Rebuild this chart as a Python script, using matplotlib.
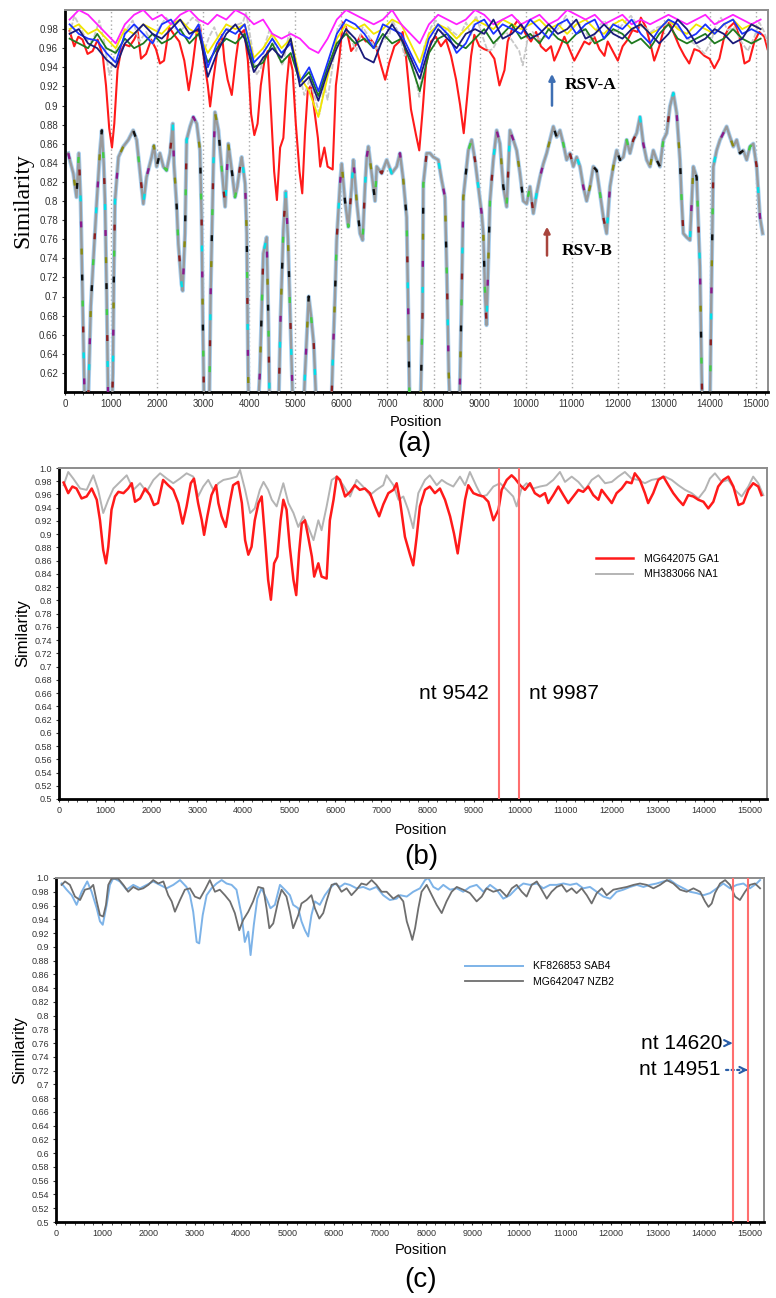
import matplotlib
matplotlib.use("Agg")
import matplotlib.pyplot as plt
from matplotlib.ticker import MultipleLocator, FixedLocator

# ---------------- data ----------------
# MG642075 GA1 (red, panels a and b)
red_pos = [100, 200, 290, 380, 490, 600, 710, 820, 890, 960, 1020, 1070, 1140, 1215, 1290, 1400, 1500, 1580,
           1650, 1760, 1870, 1975, 2060, 2150, 2260, 2370, 2480, 2590, 2685, 2770, 2860, 2930, 3020, 3100,
           3150, 3220, 3310, 3410, 3460, 3530, 3620, 3710, 3780, 3890, 3970, 4040, 4110, 4180, 4250, 4330,
           4400, 4470, 4540, 4600, 4670, 4740, 4810, 4870, 4940, 5010, 5090, 5150, 5210, 5270, 5340, 5410,
           5490, 5540, 5630, 5700, 5810, 5880, 5960, 6030, 6100, 6210, 6320, 6420, 6530, 6640, 6750, 6860,
           6950, 7040, 7150, 7260, 7330, 7400, 7510, 7620, 7690, 7765, 7835, 7945, 8050, 8160, 8270, 8380,
           8490, 8575, 8655, 8725, 8815, 8885, 8995, 9100, 9210, 9320, 9430, 9540, 9610, 9720, 9825, 9900,
           10010, 10115, 10225, 10330, 10440, 10550, 10620, 10730, 10840, 10950, 11055, 11165, 11275, 11380,
           11490, 11600, 11710, 11780, 11890, 12000, 12105, 12215, 12320, 12430, 12500, 12610, 12720, 12790,
           12900, 13010, 13120, 13230, 13335, 13445, 13550, 13660, 13770, 13880, 13990, 14095, 14205, 14310,
           14420, 14530, 14640, 14750, 14855, 14965, 15070, 15180, 15250]
red_val = [0.978, 0.962, 0.972, 0.969, 0.954, 0.957, 0.969, 0.952, 0.921, 0.876, 0.856, 0.881, 0.937, 0.957,
           0.964, 0.962, 0.969, 0.977, 0.949, 0.954, 0.969, 0.959, 0.944, 0.947, 0.982, 0.974, 0.967, 0.947,
           0.916, 0.942, 0.977, 0.984, 0.947, 0.921, 0.899, 0.927, 0.959, 0.974, 0.947, 0.927, 0.911, 0.949,
           0.974, 0.979, 0.947, 0.891, 0.869, 0.881, 0.921, 0.947, 0.957, 0.896, 0.831, 0.801, 0.856, 0.866,
           0.921, 0.952, 0.937, 0.881, 0.831, 0.808, 0.871, 0.916, 0.921, 0.896, 0.866, 0.836, 0.856, 0.836,
           0.833, 0.921, 0.952, 0.987, 0.982, 0.957, 0.964, 0.974, 0.967, 0.969, 0.962, 0.942, 0.927, 0.945,
           0.962, 0.967, 0.977, 0.952, 0.896, 0.869, 0.853, 0.896, 0.942, 0.967, 0.972, 0.962, 0.969, 0.952,
           0.927, 0.901, 0.871, 0.906, 0.952, 0.974, 0.962, 0.959, 0.957, 0.949, 0.921, 0.937, 0.967, 0.982,
           0.989, 0.984, 0.974, 0.967, 0.977, 0.962, 0.957, 0.962, 0.947, 0.959, 0.972, 0.959, 0.947, 0.957,
           0.967, 0.964, 0.972, 0.959, 0.952, 0.967, 0.957, 0.947, 0.962, 0.969, 0.979, 0.977, 0.992, 0.982,
           0.962, 0.947, 0.962, 0.982, 0.987, 0.974, 0.962, 0.952, 0.944, 0.959, 0.957, 0.952, 0.949, 0.939,
           0.949, 0.972, 0.982, 0.987, 0.972, 0.944, 0.947, 0.967, 0.977, 0.972, 0.959]

# MH383066 NA1 (gray, panels a and b)
na1_pos = [100, 200, 310, 460, 600, 745, 850, 960, 1070, 1180, 1325, 1470, 1615, 1760, 1900, 2050, 2195, 2340,
           2480, 2625, 2770, 2915, 3020, 3130, 3240, 3350, 3460, 3570, 3710, 3860, 3930, 4040, 4150, 4250,
           4360, 4440, 4540, 4620, 4725, 4870, 4980, 5090, 5195, 5305, 5410, 5525, 5630, 5700, 5810, 5920,
           6030, 6170, 6320, 6460, 6600, 6750, 6890, 7040, 7110, 7260, 7370, 7475, 7580, 7690, 7800, 7945,
           8050, 8200, 8310, 8415, 8560, 8705, 8815, 8920, 9065, 9175, 9285, 9430, 9575, 9720, 9860, 9935,
           10040, 10150, 10295, 10440, 10585, 10730, 10875, 10985, 11130, 11275, 11420, 11565, 11710, 11855,
           12000, 12140, 12285, 12430, 12575, 12720, 12865, 13010, 13155, 13300, 13445, 13590, 13735, 13880,
           14025, 14130, 14240, 14385, 14530, 14675, 14820, 14965, 15070, 15180, 15290]
na1_val = [0.974, 0.994, 0.984, 0.969, 0.967, 0.989, 0.967, 0.932, 0.952, 0.969, 0.979, 0.989, 0.967, 0.977,
           0.964, 0.982, 0.992, 0.984, 0.977, 0.984, 0.992, 0.987, 0.957, 0.972, 0.982, 0.967, 0.977, 0.982,
           0.984, 0.987, 0.997, 0.967, 0.932, 0.939, 0.967, 0.979, 0.967, 0.952, 0.942, 0.977, 0.947, 0.932,
           0.911, 0.927, 0.911, 0.891, 0.921, 0.906, 0.942, 0.982, 0.987, 0.974, 0.957, 0.982, 0.972, 0.959,
           0.967, 0.974, 0.989, 0.974, 0.952, 0.957, 0.937, 0.909, 0.962, 0.982, 0.989, 0.974, 0.982, 0.977,
           0.972, 0.987, 0.974, 0.994, 0.972, 0.957, 0.959, 0.972, 0.977, 0.967, 0.957, 0.942, 0.969, 0.977,
           0.969, 0.972, 0.974, 0.982, 0.994, 0.979, 0.987, 0.979, 0.967, 0.982, 0.989, 0.977, 0.979, 0.987,
           0.994, 0.984, 0.982, 0.977, 0.982, 0.984, 0.987, 0.982, 0.974, 0.967, 0.962, 0.954, 0.967, 0.984,
           0.992, 0.979, 0.982, 0.967, 0.957, 0.972, 0.987, 0.977, 0.959]

# other RSV-A references (panel a), sampled every 200 nt
grid_pos = list(range(100, 15101, 200))
blue_val = [0.985, 0.975, 0.97, 0.968, 0.955, 0.945, 0.975, 0.985, 0.975, 0.965, 0.985, 0.99, 0.975, 0.97,
            0.985, 0.94, 0.965, 0.98, 0.975, 0.985, 0.945, 0.955, 0.97, 0.955, 0.965, 0.925, 0.94, 0.915,
            0.945, 0.975, 0.99, 0.985, 0.975, 0.96, 0.985, 0.98, 0.975, 0.955, 0.935, 0.97, 0.985, 0.975,
            0.955, 0.965, 0.985, 0.99, 0.975, 0.985, 0.98, 0.975, 0.99, 0.98, 0.97, 0.985, 0.99, 0.975,
            0.985, 0.99, 0.97, 0.985, 0.98, 0.99, 0.975, 0.965, 0.98, 0.99, 0.985, 0.97, 0.975, 0.985,
            0.975, 0.985, 0.99, 0.975, 0.98, 0.975]
navy_val = [0.975, 0.98, 0.965, 0.96, 0.948, 0.94, 0.965, 0.975, 0.985, 0.975, 0.97, 0.98, 0.99, 0.975,
            0.98, 0.93, 0.955, 0.975, 0.985, 0.97, 0.935, 0.95, 0.96, 0.95, 0.97, 0.92, 0.93, 0.905,
            0.935, 0.96, 0.98, 0.97, 0.95, 0.945, 0.97, 0.985, 0.97, 0.95, 0.928, 0.96, 0.98, 0.97,
            0.96, 0.975, 0.98, 0.975, 0.99, 0.97, 0.975, 0.985, 0.97, 0.975, 0.985, 0.975, 0.98, 0.99,
            0.97, 0.975, 0.985, 0.975, 0.97, 0.98, 0.985, 0.975, 0.965, 0.975, 0.99, 0.98, 0.965, 0.97,
            0.98, 0.975, 0.965, 0.97, 0.985, 0.98]
green_val = [0.97, 0.965, 0.96, 0.975, 0.96, 0.955, 0.97, 0.96, 0.965, 0.975, 0.965, 0.97, 0.98, 0.965,
             0.975, 0.945, 0.96, 0.97, 0.965, 0.975, 0.94, 0.945, 0.965, 0.945, 0.955, 0.925, 0.935, 0.91,
             0.94, 0.965, 0.975, 0.965, 0.97, 0.96, 0.975, 0.965, 0.97, 0.945, 0.915, 0.955, 0.97, 0.975,
             0.965, 0.96, 0.97, 0.98, 0.965, 0.975, 0.985, 0.97, 0.975, 0.965, 0.98, 0.97, 0.965, 0.975,
             0.98, 0.965, 0.97, 0.98, 0.975, 0.965, 0.97, 0.96, 0.975, 0.985, 0.97, 0.965, 0.97, 0.975,
             0.965, 0.97, 0.98, 0.97, 0.965, 0.97]
magenta_val = [0.99, 1.0, 0.995, 0.985, 0.975, 0.965, 0.985, 0.995, 1.0, 0.99, 0.995, 0.985, 0.995, 1.0,
               0.99, 0.985, 0.995, 0.99, 1.0, 0.995, 0.985, 0.99, 0.975, 0.97, 0.975, 0.97, 0.96, 0.955,
               0.97, 0.99, 1.0, 0.995, 0.99, 0.985, 0.99, 1.0, 0.985, 0.975, 0.965, 0.985, 0.995, 0.99,
               0.985, 0.99, 1.0, 0.995, 0.985, 0.99, 0.995, 0.985, 0.99, 0.995, 0.985, 0.99, 1.0, 0.995,
               0.99, 0.995, 0.985, 0.99, 0.995, 0.985, 0.99, 0.985, 0.99, 0.995, 0.99, 0.985, 0.99, 0.995,
               0.985, 0.99, 0.995, 0.99, 0.985, 0.99]
yellow_val = [0.98, 0.985, 0.975, 0.98, 0.97, 0.96, 0.98, 0.975, 0.985, 0.98, 0.975, 0.985, 0.99, 0.98,
              0.975, 0.955, 0.97, 0.985, 0.98, 0.985, 0.95, 0.96, 0.975, 0.96, 0.97, 0.93, 0.915, 0.888,
              0.93, 0.97, 0.985, 0.98, 0.985, 0.975, 0.98, 0.99, 0.985, 0.965, 0.945, 0.975, 0.985, 0.98,
              0.97, 0.98, 0.99, 0.985, 0.98, 0.99, 0.985, 0.98, 0.985, 0.99, 0.98, 0.985, 0.975, 0.985,
              0.99, 0.98, 0.975, 0.985, 0.99, 0.98, 0.985, 0.975, 0.98, 0.99, 0.98, 0.975, 0.985, 0.98,
              0.975, 0.985, 0.99, 0.98, 0.985, 0.98]

# RSV-B references (panel a), values under 0.6 fall off the axis
rsvb_pos = [70, 120, 180, 250, 300, 340, 380, 430, 480, 520, 560, 615, 690, 760, 800, 840, 868, 905, 940,
            1000, 1040, 1060, 1085, 1160, 1265, 1375, 1480, 1555, 1630, 1700, 1770, 1880, 1930, 1990, 2060,
            2135, 2205, 2280, 2340, 2365, 2425, 2460, 2530, 2555, 2605, 2640, 2715, 2785, 2860, 2930, 2965,
            2990, 3020, 3080, 3130, 3160, 3220, 3255, 3330, 3400, 3475, 3545, 3620, 3690, 3740, 3800, 3835,
            3910, 3945, 3975, 4000, 4150, 4230, 4305, 4378, 4420, 4450, 4620, 4680, 4740, 4790, 4840, 4900,
            4950, 5000, 5150, 5210, 5290, 5340, 5400, 5460, 5500, 5760, 5810, 5860, 5897, 5970, 6006, 6078,
            6150, 6223, 6260, 6331, 6404, 6460, 6512, 6550, 6585, 6657, 6730, 6766, 6874, 6983, 7091, 7200,
            7271, 7343, 7416, 7452, 7490, 7700, 7760, 7778, 7850, 7923, 7995, 8103, 8176, 8248, 8290, 8330,
            8380, 8540, 8573, 8610, 8646, 8755, 8827, 8899, 8972, 9044, 9080, 9120, 9150, 9190, 9225, 9297,
            9370, 9442, 9514, 9587, 9659, 9731, 9804, 9876, 9948, 10021, 10093, 10166, 10238, 10310, 10383,
            10455, 10527, 10600, 10672, 10744, 10817, 10889, 10961, 11034, 11106, 11179, 11251, 11323, 11396,
            11468, 11540, 11613, 11685, 11757, 11830, 11902, 11975, 12047, 12119, 12192, 12264, 12336, 12409,
            12481, 12553, 12626, 12698, 12770, 12843, 12915, 12988, 13060, 13132, 13205, 13277, 13349, 13386,
            13422, 13494, 13566, 13639, 13711, 13783, 13820, 13850, 13990, 14030, 14073, 14145, 14218, 14290,
            14362, 14435, 14507, 14580, 14652, 14724, 14797, 14869, 14941, 15014, 15086, 15144]
rsvb_val = [0.850, 0.84, 0.829, 0.804, 0.850, 0.80, 0.70, 0.58, 0.55, 0.62, 0.69, 0.738, 0.80, 0.853, 0.874,
            0.84, 0.80, 0.70, 0.58, 0.55, 0.62, 0.72, 0.80, 0.846, 0.857, 0.864, 0.874, 0.864, 0.829, 0.797,
            0.825, 0.846, 0.858, 0.836, 0.850, 0.836, 0.832, 0.850, 0.881, 0.839, 0.794, 0.755, 0.713, 0.706,
            0.766, 0.864, 0.878, 0.888, 0.881, 0.853, 0.783, 0.68, 0.58, 0.55, 0.58, 0.70, 0.836, 0.893, 0.874,
            0.836, 0.794, 0.860, 0.832, 0.804, 0.815, 0.836, 0.846, 0.818, 0.766, 0.62, 0.55, 0.55, 0.62,
            0.745, 0.762, 0.66, 0.55, 0.55, 0.68, 0.77, 0.81, 0.76, 0.66, 0.58, 0.55, 0.55, 0.62, 0.70, 0.68,
            0.65, 0.58, 0.55, 0.55, 0.63, 0.70, 0.759, 0.818, 0.839, 0.80, 0.773, 0.815, 0.843, 0.80, 0.766,
            0.759, 0.815, 0.846, 0.857, 0.829, 0.80, 0.836, 0.829, 0.843, 0.829, 0.836, 0.850, 0.822, 0.783,
            0.68, 0.55, 0.55, 0.68, 0.818, 0.850, 0.850, 0.846, 0.843, 0.822, 0.804, 0.72, 0.62, 0.55, 0.55,
            0.61, 0.70, 0.804, 0.853, 0.864, 0.843, 0.815, 0.787, 0.766, 0.70, 0.67, 0.74, 0.80, 0.843, 0.874,
            0.860, 0.815, 0.794, 0.874, 0.864, 0.853, 0.829, 0.80, 0.797, 0.815, 0.787, 0.808, 0.825, 0.839,
            0.850, 0.864, 0.878, 0.867, 0.874, 0.860, 0.843, 0.850, 0.836, 0.846, 0.836, 0.815, 0.80, 0.815,
            0.836, 0.832, 0.808, 0.783, 0.766, 0.815, 0.836, 0.853, 0.843, 0.846, 0.864, 0.850, 0.864, 0.871,
            0.888, 0.860, 0.843, 0.836, 0.853, 0.843, 0.836, 0.864, 0.871, 0.899, 0.913, 0.892, 0.843, 0.80,
            0.766, 0.762, 0.759, 0.836, 0.825, 0.731, 0.62, 0.55, 0.55, 0.70, 0.836, 0.853, 0.864, 0.871,
            0.878, 0.867, 0.857, 0.864, 0.850, 0.853, 0.843, 0.857, 0.860, 0.836, 0.783, 0.766]

# panel c: MG642047 NZB2 (gray) and KF826853 SAB4 (blue)
nzb2_pos = [120, 195, 300, 410, 520, 625, 735, 805, 880, 950, 1020, 1080, 1130, 1200, 1345, 1455, 1560, 1670,
            1780, 1885, 1995, 2100, 2210, 2320, 2425, 2500, 2570, 2680, 2785, 2895, 3000, 3110, 3220, 3325,
            3435, 3540, 3650, 3760, 3865, 3960, 4045, 4155, 4260, 4370, 4480, 4550, 4610, 4695, 4800, 4875,
            4980, 5055, 5125, 5235, 5305, 5415, 5520, 5595, 5690, 5775, 5845, 5955, 6060, 6170, 6280, 6385,
            6495, 6600, 6710, 6820, 6925, 7035, 7145, 7290, 7400, 7505, 7580, 7650, 7700, 7760, 7830, 7900,
            8010, 8120, 8225, 8335, 8440, 8550, 8660, 8800, 8945, 9090, 9200, 9305, 9450, 9595, 9740, 9850,
            9955, 10065, 10170, 10280, 10390, 10495, 10605, 10710, 10820, 10930, 11035, 11145, 11250, 11360,
            11470, 11575, 11685, 11795, 11900, 12045, 12190, 12335, 12480, 12620, 12765, 12910, 13055, 13200,
            13340, 13485, 13630, 13775, 13920, 14025, 14100, 14170, 14240, 14350, 14460, 14565, 14675, 14780,
            14890, 14995, 15105, 15215]
nzb2_val = [0.990, 0.995, 0.990, 0.973, 0.968, 0.983, 0.985, 0.990, 0.966, 0.946, 0.944, 0.961, 0.990, 0.999,
            0.999, 0.990, 0.980, 0.987, 0.983, 0.985, 0.990, 0.997, 0.992, 0.995, 0.975, 0.966, 0.951, 0.968,
            0.983, 0.985, 0.973, 0.970, 0.983, 0.997, 0.980, 0.983, 0.975, 0.966, 0.949, 0.924, 0.939, 0.951,
            0.966, 0.987, 0.985, 0.956, 0.927, 0.934, 0.966, 0.983, 0.973, 0.951, 0.927, 0.946, 0.963, 0.968,
            0.975, 0.956, 0.941, 0.949, 0.966, 0.990, 0.992, 0.980, 0.985, 0.975, 0.983, 0.992, 0.990, 0.997,
            0.990, 0.980, 0.980, 0.970, 0.975, 0.966, 0.937, 0.922, 0.910, 0.927, 0.956, 0.980, 0.990, 0.975,
            0.961, 0.949, 0.966, 0.980, 0.987, 0.983, 0.978, 0.966, 0.973, 0.985, 0.980, 0.983, 0.973, 0.985,
            0.990, 0.980, 0.973, 0.990, 0.995, 0.983, 0.970, 0.980, 0.987, 0.990, 0.980, 0.985, 0.978, 0.985,
            0.975, 0.963, 0.978, 0.985, 0.975, 0.983, 0.985, 0.987, 0.990, 0.992, 0.990, 0.985, 0.990, 0.997,
            0.992, 0.983, 0.980, 0.985, 0.980, 0.966, 0.958, 0.963, 0.978, 0.992, 0.997, 0.990, 0.973, 0.968,
            0.980, 0.990, 0.992, 0.985]
sab4_pos = [120, 230, 340, 445, 555, 675, 770, 880, 950, 1010, 1095, 1165, 1240, 1380, 1525, 1670, 1815, 1960,
            2100, 2245, 2390, 2535, 2680, 2820, 2895, 2965, 3040, 3095, 3170, 3255, 3360, 3470, 3580, 3685,
            3795, 3900, 4010, 4080, 4155, 4205, 4275, 4350, 4440, 4550, 4635, 4730, 4840, 4945, 5055, 5125,
            5235, 5305, 5380, 5450, 5520, 5595, 5700, 5810, 5920, 6025, 6135, 6240, 6350, 6495, 6640, 6780,
            6925, 7070, 7215, 7360, 7435, 7580, 7720, 7865, 7975, 8045, 8155, 8260, 8370, 8515, 8660, 8800,
            8945, 9090, 9235, 9380, 9520, 9665, 9810, 9955, 10100, 10245, 10390, 10530, 10675, 10820, 10965,
            11110, 11250, 11395, 11540, 11685, 11830, 11975, 12115, 12260, 12405, 12550, 12695, 12835, 12980,
            13125, 13270, 13415, 13560, 13700, 13845, 13990, 14135, 14280, 14420, 14565, 14710, 14855, 14995,
            15140, 15215]
sab4_val = [0.992, 0.983, 0.975, 0.961, 0.980, 0.995, 0.980, 0.956, 0.937, 0.932, 0.961, 0.990, 1.0, 0.995,
            0.983, 0.990, 0.985, 0.990, 0.995, 0.990, 0.985, 0.990, 0.997, 0.987, 0.975, 0.951, 0.907, 0.905,
            0.946, 0.975, 0.985, 0.992, 0.997, 0.992, 0.990, 0.983, 0.946, 0.907, 0.922, 0.888, 0.932, 0.970,
            0.985, 0.970, 0.956, 0.961, 0.990, 0.983, 0.975, 0.961, 0.956, 0.937, 0.924, 0.915, 0.946, 0.966,
            0.961, 0.975, 0.985, 0.992, 0.987, 0.992, 0.990, 0.985, 0.987, 0.983, 0.987, 0.975, 0.968, 0.970,
            0.975, 0.973, 0.980, 0.985, 0.997, 1.0, 0.987, 0.983, 0.990, 0.983, 0.985, 0.980, 0.987, 0.990,
            0.980, 0.990, 0.983, 0.970, 0.975, 0.985, 0.992, 0.990, 0.992, 0.985, 0.990, 0.990, 0.992, 0.990,
            0.992, 0.985, 0.987, 0.980, 0.973, 0.970, 0.980, 0.983, 0.987, 0.990, 0.987, 0.990, 0.992, 0.995,
            0.997, 0.990, 0.985, 0.980, 0.978, 0.975, 0.978, 0.985, 0.992, 0.985, 0.990, 0.992, 0.985, 0.992,
            0.997]

breaks_b = [9542, 9987]
breaks_c = [14620, 14951]
x_ticks = list(range(0, 15001, 1000))

# ---------------- figure ----------------
W, H = 776, 1298
fig = plt.figure(figsize=(W / 100, H / 100), dpi=100)
fig.patch.set_facecolor("white")


def px_axes(left, top, right, bottom):
    return fig.add_axes([left / W, 1 - bottom / H, (right - left) / W, (bottom - top) / H])


def style_frame(ax, tick_font, tick_size):
    for s in ("left", "bottom"):
        ax.spines[s].set_color("black")
        ax.spines[s].set_linewidth(2.0)
    for s in ("top", "right"):
        ax.spines[s].set_color("#8c8c8c")
        ax.spines[s].set_linewidth(1.4)
    ax.xaxis.set_major_locator(FixedLocator(x_ticks))
    ax.xaxis.set_minor_locator(MultipleLocator(200))
    ax.tick_params(axis="both", which="major", length=2, width=0.8, colors="#333333",
                   labelsize=tick_size, pad=3)
    ax.tick_params(axis="x", which="minor", length=2, width=0.6, color="#333333")
    for lab in ax.get_xticklabels() + ax.get_yticklabels():
        lab.set_family(tick_font)


def ylabels(ax, lo, hi, keep_one=False):
    ticks = [round(lo + 0.02 * i, 2) for i in range(int(round((hi - lo) / 0.02)) + 1)]
    ax.yaxis.set_major_locator(FixedLocator(ticks))
    labs = []
    for t in ticks:
        s = "%g" % t
        if keep_one and t == 1.0:
            s = "1.0"
        labs.append(s)
    ax.set_yticklabels(labs)


def break_arrow(ax, label, xb, y, x_text):
    # dotted shaft from the label, open head at the breakpoint line
    ax.annotate(label, xy=(xb - 60, y), xytext=(x_text, y), family=sans, fontsize=15,
                ha="right", va="center",
                arrowprops=dict(arrowstyle="-", color="#2a5ea8", lw=1.6, ls=(0, (1, 1.5)),
                                shrinkA=2, shrinkB=0))
    ax.annotate("", xy=(xb, y), xytext=(xb - 90, y),
                arrowprops=dict(arrowstyle="->", color="#2a5ea8", lw=1.5, mutation_scale=11,
                                shrinkA=0, shrinkB=0))


sans = ["Liberation Sans", "DejaVu Sans"]
narrow = ["Liberation Sans Narrow", "Liberation Sans", "DejaVu Sans"]
serif = ["Liberation Serif", "DejaVu Serif"]

# ---------- panel (a) ----------
ax = px_axes(65, 10, 768, 392)
ax.set_xlim(0, 15260)
ax.set_ylim(0.6, 1.0)
for xv in x_ticks[1:]:
    ax.axvline(xv, color="#a8a8a8", lw=1.0, ls=(0, (1, 2)), zorder=0)

ax.plot(red_pos, red_val, color="#ff1a1a", lw=1.5, zorder=2)
ax.plot(na1_pos, na1_val, color="#c8c8c8", lw=1.3, ls=(0, (3, 1)), zorder=2)
ax.plot(grid_pos, yellow_val, color="#f2e600", lw=1.3, zorder=2)
ax.plot(grid_pos, green_val, color="#1f7a1f", lw=1.3, zorder=3)
ax.plot(grid_pos, magenta_val, color="#ff22ff", lw=1.3, zorder=3)
ax.plot(grid_pos, blue_val, color="#1a33ff", lw=1.3, zorder=3)
ax.plot(grid_pos, navy_val, color="#1a1a7a", lw=1.3, zorder=3)

ax.plot(rsvb_pos, rsvb_val, color="#a9d0f0", lw=3.0, zorder=2)
ax.plot(rsvb_pos, rsvb_val, color="#9a9a9a", lw=1.7, zorder=3)
for k, c in enumerate(["#8b1a8b", "#00e0e8", "#8b2020", "#44cc44", "#111111", "#8a8a10"]):
    ax.plot(rsvb_pos, rsvb_val, color=c, lw=1.7, ls=(k * 11, (2.5, 64)), zorder=4)

ylabels(ax, 0.62, 0.98)
style_frame(ax, sans, 7)
ax.set_ylabel("Similarity", family=serif, fontsize=17, labelpad=4)

ax.annotate("", xy=(10571, 0.936), xytext=(10571, 0.897),
            arrowprops=dict(arrowstyle="-|>", color="#3e6fb3", lw=1.8, mutation_scale=9))
ax.text(10850, 0.921, "RSV-A", family=serif, fontsize=12.5, fontweight="bold", va="center", ha="left")
ax.annotate("", xy=(10463, 0.776), xytext=(10463, 0.740),
            arrowprops=dict(arrowstyle="-|>", color="#a8443c", lw=1.8, mutation_scale=9))
ax.text(10790, 0.748, "RSV-B", family=serif, fontsize=12.5, fontweight="bold", va="center", ha="left")

fig.text(416 / W, 1 - 422 / H, "Position", family=sans, fontsize=10.5, ha="center", va="center")
fig.text(414 / W, 1 - 444 / H, "(a)", family=sans, fontsize=20, ha="center", va="center")

# ---------- panel (b) ----------
ax = px_axes(59, 468, 767, 799)
ax.set_xlim(0, 15370)
ax.set_ylim(0.5, 1.0)
ax.plot(na1_pos, na1_val, color="#b4b4b4", lw=1.4, label="MH383066 NA1", zorder=2)
ax.plot(red_pos, red_val, color="#ff1a1a", lw=1.8, label="MG642075 GA1", zorder=3)
for b in breaks_b:
    ax.axvline(b, color="#ff6f6f", lw=1.5, zorder=4)
ax.text(9330, 0.66, "nt 9542", family=sans, fontsize=15, ha="right", va="center")
ax.text(10200, 0.66, "nt 9987", family=sans, fontsize=15, ha="left", va="center")
h, l = ax.get_legend_handles_labels()
ax.legend(h[::-1], l[::-1], loc="upper left", bbox_to_anchor=(0.745, 0.77), frameon=False,
          prop=dict(family=sans, size=7.5), handlelength=3.6, labelspacing=0.55, handletextpad=1.0)
ylabels(ax, 0.5, 1.0, keep_one=True)
style_frame(ax, narrow, 6.5)
ax.set_ylabel("Similarity", family=sans, fontsize=12, labelpad=3)
fig.text(421 / W, 1 - 830 / H, "Position", family=sans, fontsize=10.5, ha="center", va="center")
fig.text(421 / W, 1 - 857 / H, "(b)", family=sans, fontsize=20, ha="center", va="center")

# ---------- panel (c) ----------
ax = px_axes(56, 878, 764, 1222)
ax.set_xlim(0, 15300)
ax.set_ylim(0.5, 1.0)
ax.plot(sab4_pos, sab4_val, color="#7db3e8", lw=1.4, label="KF826853 SAB4", zorder=2)
ax.plot(nzb2_pos, nzb2_val, color="#6e6e6e", lw=1.3, label="MG642047 NZB2", zorder=3)
for b in breaks_c:
    ax.axvline(b, color="#ff6f6f", lw=1.5, zorder=4)
break_arrow(ax, "nt 14620", breaks_c[0], 0.760, 14400)
break_arrow(ax, "nt 14951", breaks_c[1], 0.721, 14360)
ax.legend(loc="upper left", bbox_to_anchor=(0.565, 0.785), frameon=False,
          prop=dict(family=sans, size=7.5), handlelength=5.5, labelspacing=0.55, handletextpad=1.0)
ylabels(ax, 0.5, 1.0, keep_one=True)
style_frame(ax, narrow, 6.5)
ax.set_ylabel("Similarity", family=sans, fontsize=12, labelpad=3)
fig.text(421 / W, 1 - 1250 / H, "Position", family=sans, fontsize=10.5, ha="center", va="center")
fig.text(421 / W, 1 - 1280 / H, "(c)", family=sans, fontsize=20, ha="center", va="center")

fig.savefig("out.png", dpi=100)
